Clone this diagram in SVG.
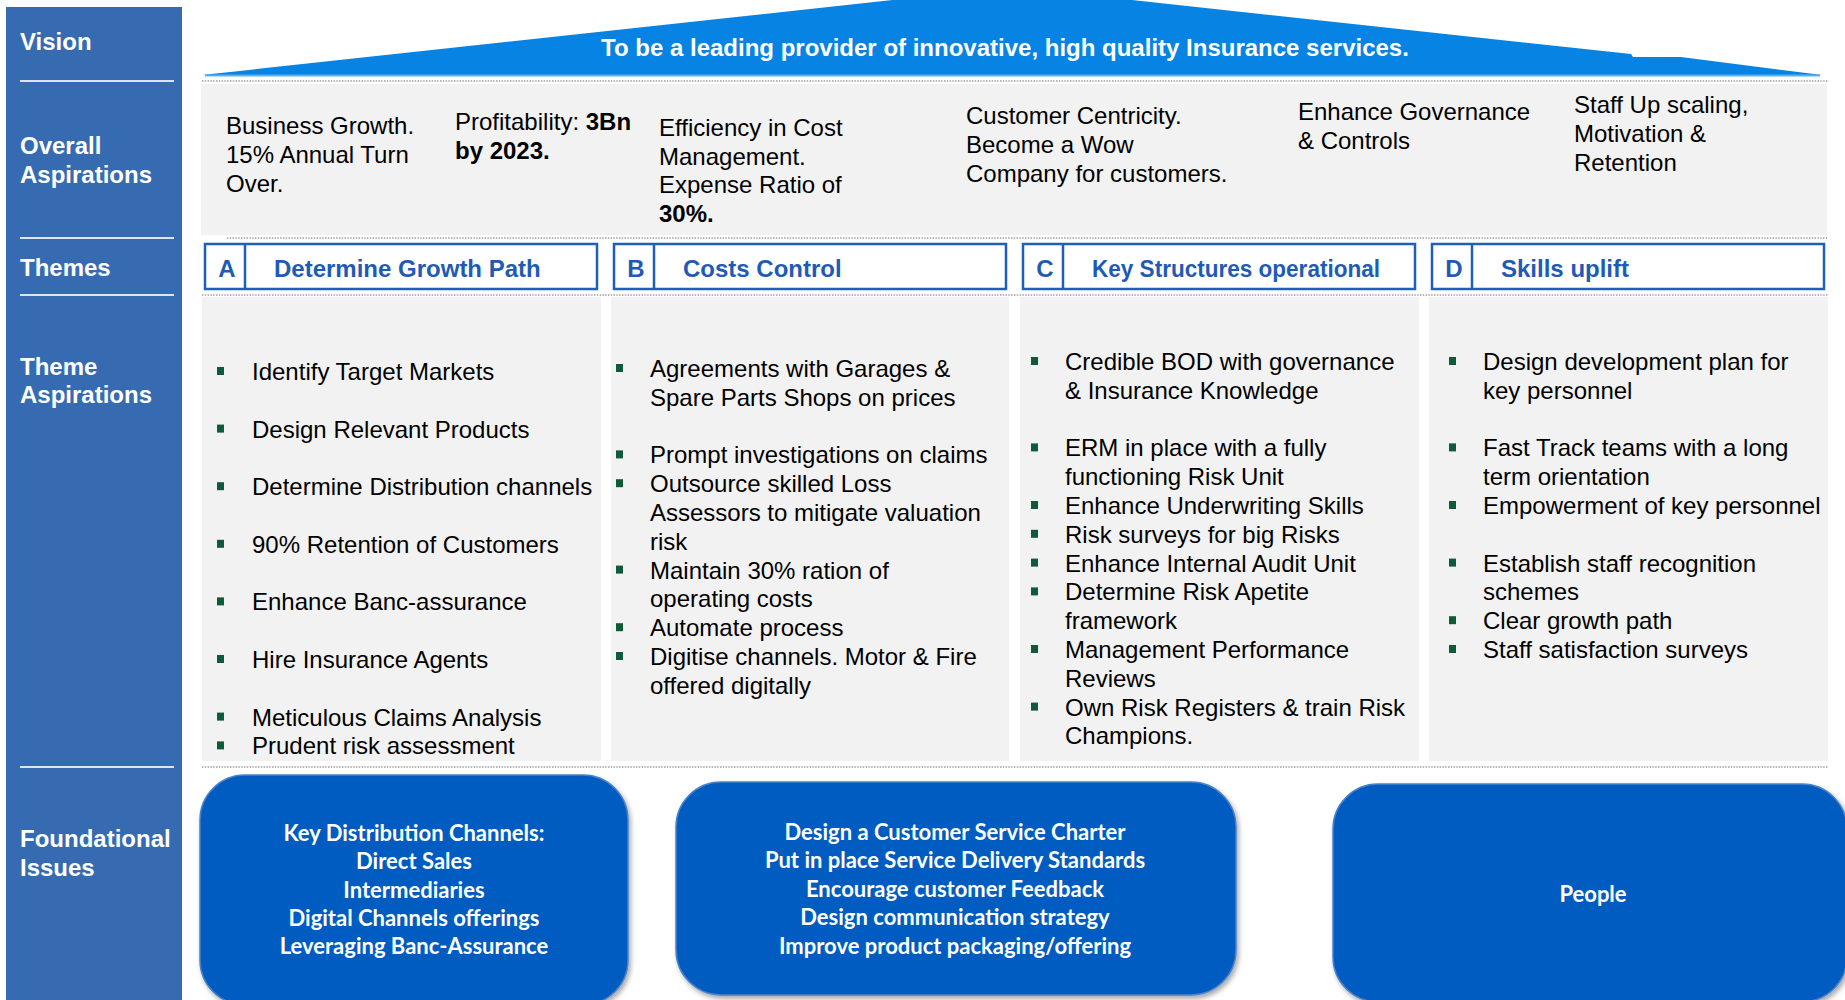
<svg xmlns="http://www.w3.org/2000/svg" width="1845" height="1000" viewBox="0 0 1845 1000">
<defs>
<style>
.side{fill:#366BB2}
.sl{fill:#fff;font-family:"Liberation Sans",Arial,sans-serif;font-weight:bold;font-size:24px}
.sep{stroke:#DCE4F2;stroke-width:2}
.dot{stroke:#9A9A9A;stroke-width:1.6;stroke-dasharray:1.4 1.4;fill:none}
.panel{fill:#F2F2F2}
.t{font-family:"Liberation Sans",Arial,sans-serif;font-size:24px;fill:#000}
.b{font-weight:bold}
.box{fill:#fff;stroke:#1F5FB8;stroke-width:2.5}
.th{font-family:"Liberation Sans",Arial,sans-serif;font-size:24px;font-weight:bold;fill:#1F5BB5}
.ctr{text-anchor:middle}
.bul{fill:#0E5A3A}
.found{fill:#035CC0;stroke:#4A82C8;stroke-width:1.5;filter:url(#sh)}
.ft{font-family:Lato,"Open Sans",sans-serif;font-weight:bold;font-size:22px;fill:#fff;text-anchor:middle}
.vt{font-family:"Liberation Sans",Arial,sans-serif;font-weight:bold;font-size:24px;fill:#fff;text-anchor:middle}
</style>
<filter id="sh" x="-5%" y="-5%" width="115%" height="115%"><feDropShadow dx="2" dy="3" stdDeviation="2.5" flood-color="#000" flood-opacity="0.35"/></filter>
<rect id="bu" width="7" height="8" class="bul"/>
</defs>
<rect x="0" y="0" width="1845" height="1000" fill="#fff"/>

<g id="sidebar">
<rect class="side" x="6" y="7" width="176" height="993"/>
<line class="sep" x1="20" y1="81" x2="174" y2="81"/>
<line class="sep" x1="20" y1="238" x2="174" y2="238"/>
<line class="sep" x1="20" y1="295" x2="174" y2="295"/>
<line class="sep" x1="20" y1="767" x2="174" y2="767"/>
<text class="sl" x="20" y="50">Vision</text>
<text class="sl" x="20" y="154">Overall</text>
<text class="sl" x="20" y="183">Aspirations</text>
<text class="sl" x="20" y="276">Themes</text>
<text class="sl" x="20" y="375">Theme</text>
<text class="sl" x="20" y="403">Aspirations</text>
<text class="sl" x="20" y="847">Foundational</text>
<text class="sl" x="20" y="876">Issues</text>
</g>

<g id="vision">
<polygon points="202,75 1012,-13 1631,54 1633,57 1681,57 1822,75" fill="#0784E3"/>
<line x1="205" y1="75.5" x2="1820" y2="75.5" stroke="#5AB0F0" stroke-width="2"/>
<text class="vt" x="1005" y="56">To be a leading provider of innovative, high quality Insurance services.</text>
</g>

<g id="dividers">
<line class="dot" x1="202" y1="81" x2="1828" y2="81"/>
<line class="dot" x1="227" y1="238" x2="1828" y2="238"/>
<line class="dot" x1="202" y1="295" x2="1828" y2="295"/>
<line class="dot" x1="202" y1="767" x2="1828" y2="767"/>
</g>

<g id="overall-aspirations">
<rect class="panel" x="201" y="84" width="1626" height="151"/>
<text class="t" x="226" y="134">Business Growth.</text>
<text class="t" x="226" y="163">15% Annual Turn</text>
<text class="t" x="226" y="192">Over.</text>
<text class="t" x="455" y="130">Profitability: <tspan class="b">3Bn</tspan></text>
<text class="t b" x="455" y="158.5">by 2023.</text>
<text class="t" x="659" y="136">Efficiency in Cost</text>
<text class="t" x="659" y="165">Management.</text>
<text class="t" x="659" y="193">Expense Ratio of</text>
<text class="t b" x="659" y="222">30%.</text>
<text class="t" x="966" y="124">Customer Centricity.</text>
<text class="t" x="966" y="153">Become a Wow</text>
<text class="t" x="966" y="182">Company for customers.</text>
<text class="t" x="1298" y="120">Enhance Governance</text>
<text class="t" x="1298" y="149">&amp; Controls</text>
<text class="t" x="1574" y="113">Staff Up scaling,</text>
<text class="t" x="1574" y="142">Motivation &amp;</text>
<text class="t" x="1574" y="171">Retention</text>
</g>

<g id="theme-a">
<rect class="box" x="205" y="244" width="392" height="45"/>
<line x1="245" y1="244" x2="245" y2="289" stroke="#1F5FB8" stroke-width="2.5"/>
<text class="th ctr" x="227" y="277">A</text>
<text class="th" x="274" y="277">Determine Growth Path</text>
</g>
<g id="theme-b">
<rect class="box" x="614" y="244" width="392" height="45"/>
<line x1="654" y1="244" x2="654" y2="289" stroke="#1F5FB8" stroke-width="2.5"/>
<text class="th ctr" x="636" y="277">B</text>
<text class="th" x="683" y="277">Costs Control</text>
</g>
<g id="theme-c">
<rect class="box" x="1023" y="244" width="392" height="45"/>
<line x1="1063" y1="244" x2="1063" y2="289" stroke="#1F5FB8" stroke-width="2.5"/>
<text class="th ctr" x="1045" y="277">C</text>
<text class="th" x="1092" y="277" textLength="288" lengthAdjust="spacingAndGlyphs">Key Structures operational</text>
</g>
<g id="theme-d">
<rect class="box" x="1432" y="244" width="392" height="45"/>
<line x1="1472" y1="244" x2="1472" y2="289" stroke="#1F5FB8" stroke-width="2.5"/>
<text class="th ctr" x="1454" y="277">D</text>
<text class="th" x="1501" y="277">Skills uplift</text>
</g>

<g id="aspirations-a">
<rect class="panel" x="202" y="297" width="399" height="464"/>
<use href="#bu" x="217" y="367"/><text class="t" x="252" y="380">Identify Target Markets</text>
<use href="#bu" x="217" y="424.6"/><text class="t" x="252" y="437.6">Design Relevant Products</text>
<use href="#bu" x="217" y="482.2"/><text class="t" x="252" y="495.2">Determine Distribution channels</text>
<use href="#bu" x="217" y="539.8"/><text class="t" x="252" y="552.8">90% Retention of Customers</text>
<use href="#bu" x="217" y="597.4"/><text class="t" x="252" y="610.4">Enhance Banc-assurance</text>
<use href="#bu" x="217" y="655"/><text class="t" x="252" y="668">Hire Insurance Agents</text>
<use href="#bu" x="217" y="712.6"/><text class="t" x="252" y="725.6">Meticulous Claims Analysis</text>
<use href="#bu" x="217" y="741.4"/><text class="t" x="252" y="754.4">Prudent risk assessment</text>
</g>

<g id="aspirations-b">
<rect class="panel" x="611" y="297" width="398" height="464"/>
<use href="#bu" x="616" y="364"/><text class="t" x="650" y="377">Agreements with Garages &amp;</text>
<text class="t" x="650" y="405.8">Spare Parts Shops on prices</text>
<use href="#bu" x="616" y="450.4"/><text class="t" x="650" y="463.4">Prompt investigations on claims</text>
<use href="#bu" x="616" y="479.2"/><text class="t" x="650" y="492.2">Outsource skilled Loss</text>
<text class="t" x="650" y="521">Assessors to mitigate valuation</text>
<text class="t" x="650" y="549.8">risk</text>
<use href="#bu" x="616" y="565.6"/><text class="t" x="650" y="578.6">Maintain 30% ration of</text>
<text class="t" x="650" y="607.4">operating costs</text>
<use href="#bu" x="616" y="623.2"/><text class="t" x="650" y="636.2">Automate process</text>
<use href="#bu" x="616" y="652"/><text class="t" x="650" y="665">Digitise channels. Motor &amp; Fire</text>
<text class="t" x="650" y="693.8">offered digitally</text>
</g>

<g id="aspirations-c">
<rect class="panel" x="1020" y="297" width="399" height="464"/>
<use href="#bu" x="1031" y="357"/><text class="t" x="1065" y="370">Credible BOD with governance</text>
<text class="t" x="1065" y="398.8">&amp; Insurance Knowledge</text>
<use href="#bu" x="1031" y="443.4"/><text class="t" x="1065" y="456.4">ERM in place with a fully</text>
<text class="t" x="1065" y="485.2">functioning Risk Unit</text>
<use href="#bu" x="1031" y="501"/><text class="t" x="1065" y="514">Enhance Underwriting Skills</text>
<use href="#bu" x="1031" y="529.8"/><text class="t" x="1065" y="542.8">Risk surveys for big Risks</text>
<use href="#bu" x="1031" y="558.6"/><text class="t" x="1065" y="571.6">Enhance Internal Audit Unit</text>
<use href="#bu" x="1031" y="587.4"/><text class="t" x="1065" y="600.4">Determine Risk Apetite</text>
<text class="t" x="1065" y="629.2">framework</text>
<use href="#bu" x="1031" y="645"/><text class="t" x="1065" y="658">Management Performance</text>
<text class="t" x="1065" y="686.8">Reviews</text>
<use href="#bu" x="1031" y="702.6"/><text class="t" x="1065" y="715.6">Own Risk Registers &amp; train Risk</text>
<text class="t" x="1065" y="744.4">Champions.</text>
</g>

<g id="aspirations-d">
<rect class="panel" x="1429" y="297" width="399" height="464"/>
<use href="#bu" x="1449" y="357"/><text class="t" x="1483" y="370">Design development plan for</text>
<text class="t" x="1483" y="398.8">key personnel</text>
<use href="#bu" x="1449" y="443.4"/><text class="t" x="1483" y="456.4">Fast Track teams with a long</text>
<text class="t" x="1483" y="485.2">term orientation</text>
<use href="#bu" x="1449" y="501"/><text class="t" x="1483" y="514">Empowerment of key personnel</text>
<use href="#bu" x="1449" y="558.6"/><text class="t" x="1483" y="571.6">Establish staff recognition</text>
<text class="t" x="1483" y="600.4">schemes</text>
<use href="#bu" x="1449" y="616.2"/><text class="t" x="1483" y="629.2">Clear growth path</text>
<use href="#bu" x="1449" y="645"/><text class="t" x="1483" y="658">Staff satisfaction surveys</text>
</g>

<g id="foundation-channels">
<rect class="found" x="200" y="775" width="428" height="230" rx="45" ry="45"/>
<text class="ft" x="414" y="841">Key Distribution Channels:</text>
<text class="ft" x="414" y="869">Direct Sales</text>
<text class="ft" x="414" y="898">Intermediaries</text>
<text class="ft" x="414" y="926">Digital Channels offerings</text>
<text class="ft" x="414" y="954">Leveraging Banc-Assurance</text>
</g>
<g id="foundation-service">
<rect class="found" x="676" y="782" width="560" height="213" rx="45" ry="45"/>
<text class="ft" x="955" y="840">Design a Customer Service Charter</text>
<text class="ft" x="955" y="868">Put in place Service Delivery Standards</text>
<text class="ft" x="955" y="897">Encourage customer Feedback</text>
<text class="ft" x="955" y="925">Design communication strategy</text>
<text class="ft" x="955" y="954">Improve product packaging/offering</text>
</g>
<g id="foundation-people">
<rect class="found" x="1333" y="784" width="514" height="218" rx="45" ry="45"/>
<text class="ft" x="1593" y="902">People</text>
</g>
</svg>
